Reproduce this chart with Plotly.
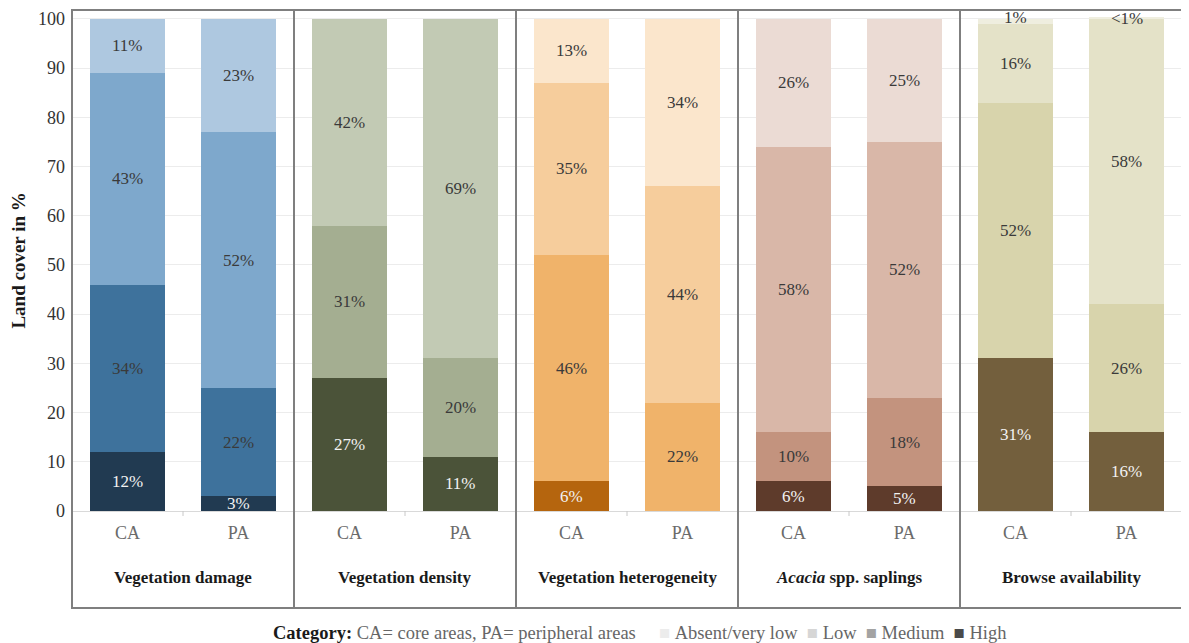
import plotly.graph_objects as go

# ---------------- data ----------------
panels = ["Vegetation damage", "Vegetation density", "Vegetation heterogeneity",
          "<i>Acacia</i> spp. saplings", "Browse availability"]
areas = ["CA", "PA"]
levels = ["High", "Medium", "Low", "Absent/very low"]

high = [12, 3, 27, 11, 6, 0, 6, 5, 31, 16]
medium = [34, 22, 31, 20, 46, 22, 10, 18, 52, 26]
low = [43, 52, 42, 69, 35, 44, 58, 52, 16, 58]
absent = [11, 23, 0, 0, 13, 34, 26, 25, 1, 0.4]

high_lbl = ["12%", "3%", "27%", "11%", "6%", "", "6%", "5%", "31%", "16%"]
medium_lbl = ["34%", "22%", "31%", "20%", "46%", "22%", "10%", "18%", "52%", "26%"]
low_lbl = ["43%", "52%", "42%", "69%", "35%", "44%", "58%", "52%", "16%", "58%"]
absent_lbl = ["11%", "23%", "", "", "13%", "34%", "26%", "25%", "1%", "<1%"]

# colours per panel (High, Medium, Low, Absent)
panel_colors = [
    ["#213a51", "#3e729c", "#7ea8cc", "#aec8e0"],
    ["#4b5339", "#a4ae91", "#c2cab4", "#e3e7dc"],
    ["#b5650e", "#f0b36a", "#f6cd9c", "#fbe6cc"],
    ["#5e3b2b", "#c3937e", "#d9b7a8", "#ebdbd4"],
    ["#735f3d", "#d8d4ac", "#e4e2c8", "#efeedf"],
]
legend_colors = ["#4a4a4a", "#a3a3a3", "#d6d6d6", "#ececec"]

FONT = "Liberation Serif"

x_pos = list(range(len(panels) * len(areas)))
tick_text = areas * len(panels)

series = [high, medium, low, absent]
labels = [high_lbl, medium_lbl, low_lbl, absent_lbl]

fig = go.Figure()
for li, (lev, vals) in enumerate(zip(levels, series)):
    cols = [panel_colors[i // 2][li] for i in x_pos]
    fig.add_trace(go.Bar(
        x=x_pos, y=vals, name=lev, width=0.675,
        marker=dict(color=cols, line=dict(width=0)),
        showlegend=False, hoverinfo="skip",
    ))

# small label nudges for tiny top segments
tiny_shift = {"1%": 4, "<1%": -1}

annotations = []
for i in x_pos:
    base = 0
    for li, vals in enumerate(series):
        v = vals[i]
        txt = labels[li][i]
        if txt:
            yc = base + v / 2
            ysh = tiny_shift.get(txt, 0) if v < 2 else 0
            annotations.append(dict(
                x=i, y=yc, xref="x", yref="y", text=txt, showarrow=False,
                xanchor="center", yanchor="middle", yshift=ysh,
                font=dict(family=FONT, size=17,
                          color="#f2f2f2" if li == 0 else "#3a3a3a"),
            ))
        base += v

# panel titles
for pi, p in enumerate(panels):
    annotations.append(dict(
        x=(pi + 0.5) / len(panels), y=-0.1337, xref="paper", yref="paper",
        xanchor="center", yanchor="middle",
        text="<b>" + p + "</b>", showarrow=False,
        font=dict(family=FONT, size=17, color="#1a1a1a"),
    ))

# y title
annotations.append(dict(
    x=-0.0486, y=0.5, xref="paper", yref="paper", text="<b>Land cover in %</b>",
    xanchor="center", yanchor="middle",
    textangle=-90, showarrow=False, font=dict(family=FONT, size=19, color="#1a1a1a"),
))

# legend line
sq = "■"
nb = "&nbsp;"
leg = ("<b>Category:</b> <span style='color:#666666'>CA= core areas, PA= peripheral areas</span>"
       + nb * 5)
items = []
for lev, c in zip(["Absent/very low", "Low", "Medium", "High"], legend_colors[::-1]):
    items.append("<span style='color:%s'>%s</span>%s<span style='color:#666666'>%s</span>"
                 % (c, sq, nb, lev))
leg += (nb * 2).join(items)
annotations.append(dict(
    x=0.511, y=-0.2435, xref="paper", yref="paper", text=leg, showarrow=False,
    xanchor="center", yanchor="middle",
    font=dict(family=FONT, size=18.5, color="#1a1a1a"),
))

shapes = []
box_bottom = -0.1936
line_col = "#7f7f7f"
shapes.append(dict(type="rect", xref="paper", yref="paper", x0=0, x1=1,
                   y0=box_bottom, y1=1, line=dict(color=line_col, width=2)))
for k in range(1, len(panels)):
    xs = k / len(panels)
    shapes.append(dict(type="line", xref="paper", yref="paper", x0=xs, x1=xs,
                       y0=box_bottom, y1=1, line=dict(color=line_col, width=2)))
for k in range(len(panels)):
    xs = (2 * k + 1) / (2 * len(panels))
    shapes.append(dict(type="line", xref="paper", yref="paper", x0=xs, x1=xs,
                       y0=0, y1=-0.01, line=dict(color="#c8c8c8", width=1)))

# page body has an 8px default margin: compensate in figure size/margins
fig.update_layout(
    width=1181, height=635,
    margin=dict(l=64, r=7, t=2, b=132),
    barmode="stack", bargap=0.325,
    plot_bgcolor="white", paper_bgcolor="white",
    font=dict(family=FONT),
    annotations=annotations, shapes=shapes,
    xaxis=dict(range=[-0.5, 9.5], tickmode="array", tickvals=x_pos, ticktext=tick_text,
               tickfont=dict(family=FONT, size=18, color="#6b6b6b"), ticks="",
               showgrid=False, zeroline=False, showline=True, linecolor="#d9d9d9",
               linewidth=1, ticklabelstandoff=5),
    yaxis=dict(range=[0, 101.8], tickmode="array", tickvals=list(range(0, 101, 10)),
               tickfont=dict(family=FONT, size=18, color="#333333"), ticks="",
               showgrid=True, gridcolor="#ececec", gridwidth=1, zeroline=False,
               ticklabelstandoff=6),
)

fig.write_html("out.html")
